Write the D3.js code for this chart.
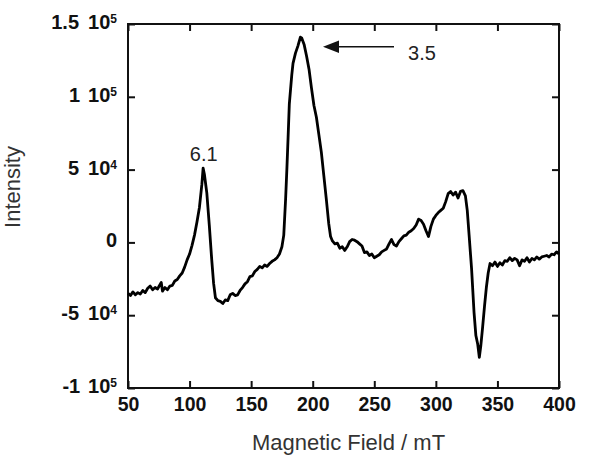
<!DOCTYPE html>
<html>
<head>
<meta charset="utf-8">
<script src="https://cdn.jsdelivr.net/npm/d3@7"></script>
<style>
  body { margin: 0; background: #fff; }
  text { font-family: 'Liberation Sans', Arial, sans-serif; }
</style>
</head>
<body>
<div id="chart"></div>
<script>
// field (mT) and intensity
let field = [
  50, 52, 54, 56, 58, 60, 62, 64, 66, 68, 70, 72, 74, 75, 77, 78, 80, 82, 84, 86,
  88, 90, 92, 94, 96, 98, 100, 102, 104, 106, 108, 110, 111, 112, 114, 116, 118, 119.5, 121, 123,
  125, 127, 129, 131, 133, 135, 137, 139, 141, 143, 145, 147, 149, 151, 153, 155, 157, 159, 161, 163,
  165, 167, 169, 171, 173, 175, 176.5, 178, 179, 180, 181, 183, 184, 186, 188, 190, 191, 193, 195, 197,
  199, 201, 203, 205, 207, 209, 211, 213, 214.5, 216, 218, 220, 222, 224, 226, 228, 230, 232, 234, 236,
  238, 240, 242, 244, 246, 248, 250, 252, 254, 256, 258, 260, 262, 264, 266, 268, 270, 272, 274, 276,
  278, 280, 282, 284, 286, 288, 290, 292, 294, 296, 298, 300, 302, 304, 306, 308, 310, 312, 314, 316,
  318, 320, 322, 324, 325.5, 327, 329, 331, 332.5, 334, 335.3, 336.5, 338, 339.5, 341, 342.5, 344, 346, 348, 350,
  352, 354, 356, 358, 360, 362, 364, 366, 368, 370, 372, 374, 376, 378, 380, 382, 384, 386, 388, 390,
  392, 394, 396, 398, 400
]

let intensity = [
  -35000, -36500, -34000, -36000, -34500, -35500, -33000, -34500, -31500, -30000, -32500, -31000, -32000, -30500, -27500, -33500, -31000, -32500, -30000, -29500,
  -26500, -25500, -23000, -21000, -17000, -12000, -8000, -2000, 5000, 14000, 24000, 40000, 51000, 47000, 34000, 12000, -12000, -28000, -38000, -40000,
  -40500, -42000, -39500, -40000, -36000, -35000, -36500, -36000, -33000, -31000, -28500, -27000, -23500, -23000, -20000, -18500, -16500, -17500, -15500, -16500,
  -14500, -13000, -12000, -10500, -8000, -3000, 5000, 30000, 50000, 72000, 95000, 115000, 123000, 130000, 135000, 141000, 140500, 136000, 128000, 119000,
  106000, 94000, 86000, 74000, 62000, 46000, 30000, 13000, 4000, 1000, -1000, -500, -4000, -3000, -5500, -3000, 500, 2000, 1500, 500,
  -1000, -2500, -7000, -6500, -9000, -8000, -10500, -9500, -8500, -6500, -5500, -4500, -1000, 2000, -1500, -2500, 500, 2500, 4500, 5000,
  7000, 8000, 9500, 12000, 16000, 15000, 12500, 8000, 4000, 11000, 16000, 18500, 20500, 22000, 23500, 28000, 33500, 35000, 32500, 34500,
  30500, 35000, 35500, 32000, 22000, 5000, -18000, -48000, -64000, -70000, -79000, -71000, -58000, -44000, -31000, -21000, -14500, -16000, -13500, -16500,
  -14000, -15500, -12500, -13000, -10500, -12500, -11000, -12000, -16000, -12000, -13000, -10500, -13500, -11000, -12000, -10000, -11500, -10000, -9500, -9000,
  -10000, -8000, -8500, -6500, -8000
]

let xTicks = [50, 100, 150, 200, 250, 300, 350, 400]
let yTicks = [-100000, -50000, 0, 50000, 100000, 150000]
let yTickMantissa = ['-1', '-5', '0', '5', '1', '1.5']
let yTickExponent = ['5', '4', '', '4', '5', '5']

let margin = { top: 24, left: 128, right: 41, bottom: 74 }
let width = 600 - margin.left - margin.right
let height = 462 - margin.top - margin.bottom

let svg = d3
  .select('#chart')
  .append('svg')
  .attr('width', 600)
  .attr('height', 462)
  .append('g')
  .attr('transform', 'translate(' + margin.left + ',' + margin.top + ')')

let xScale = d3.scaleLinear().domain([50, 400]).range([0, width])
let yScale = d3.scaleLinear().domain([-100000, 150000]).range([height, 0])

// inward ticks on all four sides
let xAxis = d3.axisBottom(xScale).tickValues(xTicks).tickSizeInner(-7).tickSizeOuter(0).tickPadding(9)
let xAxisTop = d3.axisTop(xScale).tickValues(xTicks).tickSizeInner(-7).tickSizeOuter(0).tickFormat('')
let yAxis = d3.axisLeft(yScale).tickValues(yTicks).tickSizeInner(-7).tickSizeOuter(0).tickFormat('')
let yAxisRight = d3.axisRight(yScale).tickValues(yTicks).tickSizeInner(-7).tickSizeOuter(0).tickFormat('')

let gx = svg.append('g').attr('transform', `translate(0,${height})`).call(xAxis)
svg.append('g').call(xAxisTop)
svg.append('g').call(yAxis)
svg.append('g').attr('transform', `translate(${width},0)`).call(yAxisRight)

svg.selectAll('.domain').remove()
svg.selectAll('.tick line').attr('stroke', '#111').attr('stroke-width', 2)

gx.selectAll('text')
  .attr('font-size', 19.5)
  .attr('font-weight', 'bold')
  .attr('fill', '#111')

// frame
svg
  .append('rect')
  .attr('width', width)
  .attr('height', height)
  .attr('fill', 'none')
  .attr('stroke', '#111')
  .attr('stroke-width', 2)

// y tick labels like "1.5 10^5"
let yLabels = svg
  .selectAll('.ylab')
  .data(yTicks)
  .enter()
  .append('text')
  .attr('class', 'ylab')
  .attr('x', -11)
  .attr('y', d => yScale(d) + 5)
  .attr('text-anchor', 'end')
  .attr('font-size', 20)
  .attr('font-weight', 'bold')
  .attr('fill', '#111')

yLabels.each(function(d, i) {
  let t = d3.select(this)
  if (yTickExponent[i] === '') {
    t.text(yTickMantissa[i])
    return
  }
  t.append('tspan').text(yTickMantissa[i])
  t.append('tspan').attr('dx', 9).text('10')
  t.append('tspan').attr('dy', -6).attr('font-size', 12).text(yTickExponent[i])
})

let line = d3
  .line()
  .x(d => xScale(d[0]))
  .y(d => yScale(d[1]))

svg
  .append('path')
  .datum(field.map((f, i) => [f, intensity[i]]))
  .attr('d', line)
  .attr('fill', 'none')
  .attr('stroke', '#000')
  .attr('stroke-width', 2.8)
  .attr('stroke-linejoin', 'round')

// annotations
svg
  .append('text')
  .attr('x', xScale(111.5))
  .attr('y', 137)
  .attr('text-anchor', 'middle')
  .attr('font-size', 20)
  .attr('fill', '#222')
  .text('6.1')

svg
  .append('text')
  .attr('x', 294)
  .attr('y', 36)
  .attr('text-anchor', 'middle')
  .attr('font-size', 20)
  .attr('fill', '#222')
  .text('3.5')

svg
  .append('line')
  .attr('x1', 266)
  .attr('x2', 208)
  .attr('y1', 22.7)
  .attr('y2', 22.7)
  .attr('stroke', '#111')
  .attr('stroke-width', 1.5)

svg
  .append('path')
  .attr('d', 'M195,22.7 L211,16.5 L211,28.9 Z')
  .attr('fill', '#111')

// axis titles
svg
  .append('text')
  .attr('x', width / 2 + 5)
  .attr('y', height + 62)
  .attr('text-anchor', 'middle')
  .attr('font-size', 22)
  .attr('fill', '#333')
  .text('Magnetic Field / mT')

svg
  .append('text')
  .attr('transform', `translate(${-108},${163}) rotate(-90)`)
  .attr('text-anchor', 'middle')
  .attr('font-size', 22)
  .attr('fill', '#333')
  .text('Intensity')
</script>
</body>
</html>
